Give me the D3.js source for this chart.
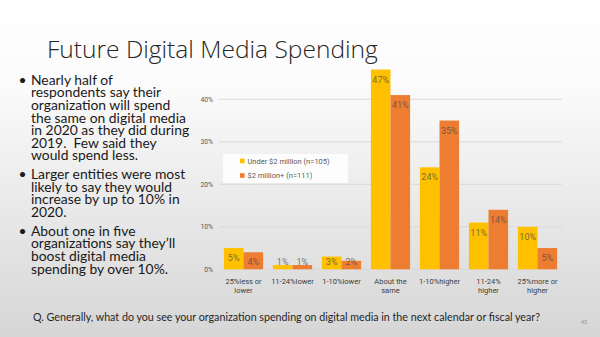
<!DOCTYPE html>
<html><head><meta charset="utf-8">
<script src="https://cdn.jsdelivr.net/npm/d3@7/dist/d3.min.js"></script>
<style>html,body{margin:0;padding:0;overflow:hidden;}svg{display:block;}</style>
</head><body>
<script>
const categories = [["25%less or","lower"],["11-24%lower"],["1-10%lower"],["About the","same"],["1-10%higher"],["11-24%","higher"],["25%more or","higher"]];
const seriesNames = ["Under $2 million (n=105)", "$2 million+ (n=111)"];
const underValues = [5, 1, 3, 47, 24, 11, 10];
const overValues  = [4, 1, 2, 41, 35, 14, 5];
const yTicks = [0, 10, 20, 30, 40];
const tickLabels = ["0%", "10%", "20%", "30%", "40%"];
const colors = ["#FFC000", "#ED7D31"];
const title = "Future Digital Media Spending";
const bullets = [
  ["Nearly half of","respondents say their","organization will spend","the same on digital media","in 2020 as they did during","2019.  Few said they","would spend less."],
  ["Larger entities were most","likely to say they would","increase by up to 10% in","2020."],
  ["About one in five","organizations say they\u2019ll","boost digital media","spending by over 10%."]
];
const question = "Q. Generally, what do you see your organization spending on digital media in the next calendar or fiscal year?";
const pageNum = "45";

const W = 600, H = 337;
const svg = d3.select("body").append("svg").attr("width", W).attr("height", H);
const defs = svg.append("defs");
const grad = defs.append("linearGradient").attr("id","bg").attr("x1",0).attr("y1",0).attr("x2",0).attr("y2",1);
grad.append("stop").attr("offset","0%").attr("stop-color","#ffffff");
grad.append("stop").attr("offset","25%").attr("stop-color","#fbfbfb");
grad.append("stop").attr("offset","100%").attr("stop-color","#d6d6d6");
svg.append("rect").attr("width",W).attr("height",H).attr("fill","url(#bg)");

function fitText(sel, target) {
  const w = sel.node().getComputedTextLength();
  const fs = parseFloat(sel.attr("font-size"));
  sel.attr("font-size", fs * target / w);
}

// Title
const t = svg.append("text").attr("x", 47).attr("y", 57.5)
  .attr("font-family","'Open Sans', Lato, sans-serif").attr("font-weight",300)
  .attr("font-size",24).attr("fill","#262626").text(title);
fitText(t, 331);

// Bullets
const bulletFont = "Lato, 'Open Sans', sans-serif";
const bulletStarts = [80, 174.3, 231];
const lineH = 12.55;
const bg = svg.append("g");
const measure = bg.append("text").attr("font-family",bulletFont).attr("font-size",14).text("the same on digital media");
const bw = measure.node().getComputedTextLength();
measure.remove();
const bfs = 14 * 155 / bw;
bullets.forEach((lines, i) => {
  bg.append("text").attr("x", 18.5).attr("y", bulletStarts[i]).attr("dy","0.35em")
    .attr("font-family",bulletFont).attr("font-size",bfs).attr("fill","#1a1a1a").text("\u2022");
  lines.forEach((ln, j) => {
    bg.append("text").attr("x", 31).attr("y", bulletStarts[i] + j*lineH).attr("dy","0.35em")
      .attr("font-family",bulletFont).attr("font-size",bfs).attr("fill","#1a1a1a")
      .attr("xml:space","preserve").style("white-space","pre").text(ln);
  });
});

// Chart
const x = d3.scaleBand().domain(d3.range(categories.length)).range([219, 562]).paddingInner(0.2).paddingOuter(0.1);
const x1 = d3.scaleBand().domain([0,1]).range([0, x.bandwidth()]);
const y = d3.scaleLinear().domain([0, 50]).range([269.3, 56.8]);
const cf = "Roboto, 'Liberation Sans', Arial, sans-serif";

const grid = svg.append("g");
grid.selectAll("line").data(yTicks).join("line")
  .attr("x1", 219).attr("x2", 562).attr("y1", d => y(d)).attr("y2", d => y(d))
  .attr("stroke", "#d9d9d9").attr("stroke-width", 1);
const yAxis = d3.axisLeft(y).tickValues(yTicks).tickFormat((d,i) => tickLabels[i]).tickSize(0).tickPadding(6);
const ya = svg.append("g").attr("transform","translate(213,0)").call(yAxis);
ya.select(".domain").remove();
ya.selectAll("text").attr("font-family",cf).attr("font-size",6.8).attr("fill","#595959").attr("x",0);

const series = [underValues, overValues];
series.forEach((vals, s) => {
  const g = svg.append("g");
  g.selectAll("rect").data(vals).join("rect")
    .attr("x", (d,i) => x(i) + x1(s)).attr("width", x1.bandwidth())
    .attr("y", d => y(d)).attr("height", d => y(0) - y(d)).attr("fill", colors[s]);
  g.selectAll("text").data(vals).join("text")
    .attr("x", (d,i) => x(i) + x1(s) + x1.bandwidth()/2)
    .attr("y", d => Math.min(y(d) + 10, 261.5)).attr("dy","0.35em")
    .attr("text-anchor","middle").attr("font-family",cf).attr("font-size",9)
    .attr("fill","#4a4a4a").attr("fill-opacity",0.75).text(d => d + "%");
});

// X labels
const xl = svg.append("g");
categories.forEach((lines, i) => {
  lines.forEach((ln, j) => {
    xl.append("text").attr("x", x(i) + x.bandwidth()/2).attr("y", 281 + j*9.8).attr("dy","0.35em")
      .attr("text-anchor","middle").attr("font-family",cf).attr("font-size",7.5).attr("fill","#404040").text(ln);
  });
});

// Legend
const lg = svg.append("g");
lg.append("rect").attr("x",223).attr("y",154).attr("width",125).attr("height",29).attr("fill","#ffffff").attr("fill-opacity",0.85);
seriesNames.forEach((n, i) => {
  const yy = 161 + i*14.5;
  lg.append("rect").attr("x",240).attr("y",yy-2.3).attr("width",4.6).attr("height",4.6).attr("fill",colors[i]);
  lg.append("text").attr("x",247.5).attr("y",yy).attr("dy","0.35em").attr("font-family",cf)
    .attr("font-size",7.5).attr("fill","#595959").text(n);
});

// Question
const q = svg.append("text").attr("x", 33).attr("y", 317).attr("dy","0.35em")
  .attr("font-family",bulletFont).attr("font-size",10).attr("fill","#262626").text(question);
fitText(q, 508);
svg.append("text").attr("x", 584).attr("y", 322).attr("dy","0.35em").attr("text-anchor","middle")
  .attr("font-family",cf).attr("font-size",6).attr("fill","#9a9a9a").text(pageNum);
</script>
</body></html>
